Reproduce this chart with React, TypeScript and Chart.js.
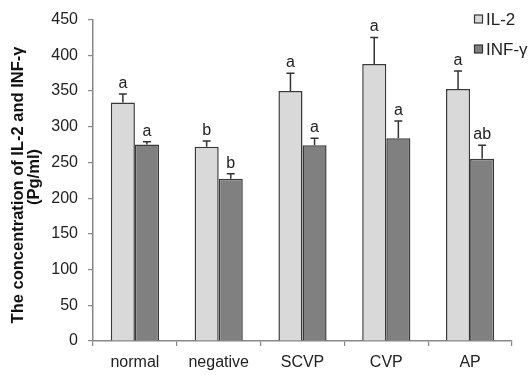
import React, { useEffect, useRef } from "react";
import { Chart, registerables } from "chart.js";

Chart.register(...registerables);

const categories = ["normal", "negative", "SCVP", "CVP", "AP"];
const il2Values = [334, 272, 350, 388, 353];
const il2Errors = [12, 8, 25, 37, 25];
const il2Letters = ["a", "b", "a", "a", "a"];
const infValues = [275, 227, 274, 284, 255];
const infErrors = [4, 7, 10, 24, 19];
const infLetters = ["a", "b", "a", "a", "ab"];
const yTicks = [0, 50, 100, 150, 200, 250, 300, 350, 400, 450];

const FONT = "'Liberation Sans', Arial, sans-serif";

export default function App() {
  const ref = useRef<HTMLCanvasElement | null>(null);

  useEffect(() => {
    if (!ref.current) return;
    const errors = [il2Errors, infErrors];
    const letters = [il2Letters, infLetters];

    const overlay = {
      id: "overlay",
      afterDatasetsDraw(chart: any) {
        const ctx = chart.ctx;
        const y = chart.scales.y;
        ctx.save();
        chart.data.datasets.forEach((ds: any, di: number) => {
          const meta = chart.getDatasetMeta(di);
          meta.data.forEach((bar: any, i: number) => {
            const v = ds.data[i];
            const e = errors[di][i];
            const top = y.getPixelForValue(v + e);
            const base = y.getPixelForValue(v);
            ctx.strokeStyle = "#333";
            ctx.lineWidth = 1.5;
            ctx.beginPath();
            ctx.moveTo(bar.x, base);
            ctx.lineTo(bar.x, top);
            ctx.moveTo(bar.x - 4, top);
            ctx.lineTo(bar.x + 4, top);
            ctx.stroke();
            ctx.fillStyle = "#222";
            ctx.font = `16px ${FONT}`;
            ctx.textAlign = "center";
            ctx.textBaseline = "alphabetic";
            ctx.fillText(letters[di][i], bar.x, top - 6);
          });
        });
        // y title
        ctx.save();
        ctx.translate(18, 185);
        ctx.rotate(-Math.PI / 2);
        ctx.font = `bold 16.5px ${FONT}`;
        ctx.fillStyle = "#111";
        ctx.textAlign = "center";
        ctx.textBaseline = "middle";
        ctx.fillText("The concentration of IL-2 and INF-γ", 0, 0);
        ctx.translate(8, 16);
        ctx.fillText("(Pg/ml)", 0, 0);
        ctx.restore();
        // legend
        const items = [
          { label: "IL-2", color: "#d9d9d9", y: 19 },
          { label: "INF-γ", color: "#808080", y: 49 },
        ];
        items.forEach((it) => {
          ctx.fillStyle = it.color;
          ctx.fillRect(474.5, it.y - 4, 8, 8);
          ctx.strokeStyle = "#333";
          ctx.lineWidth = 1.2;
          ctx.strokeRect(474.5, it.y - 4, 8, 8);
          ctx.fillStyle = "#222";
          ctx.font = `17px ${FONT}`;
          ctx.textAlign = "left";
          ctx.textBaseline = "middle";
          ctx.fillText(it.label, 486, it.y + 1);
        });
        ctx.restore();
      },
    };

    const chart = new Chart(ref.current, {
      type: "bar",
      data: {
        labels: categories,
        datasets: [
          {
            label: "IL-2",
            data: il2Values,
            backgroundColor: "#d9d9d9",
            borderColor: "#3a3a3a",
            borderWidth: 1.5,
          },
          {
            label: "INF-γ",
            data: infValues,
            backgroundColor: "#808080",
            borderColor: "#3a3a3a",
            borderWidth: 1.5,
          },
        ],
      },
      options: {
        animation: false,
        responsive: false,
        maintainAspectRatio: false,
        layout: { padding: { top: 16, right: 19, left: 0, bottom: 0 } },
        plugins: { legend: { display: false }, tooltip: { enabled: false } },
        datasets: { bar: { categoryPercentage: 0.575, barPercentage: 1.0 } },
        scales: {
          x: {
            grid: {
              display: true,
              drawOnChartArea: false,
              drawTicks: true,
              tickLength: 5,
              color: "#888",
              lineWidth: 1.2,
            },
            border: { display: true, color: "#888", width: 1.5 },
            ticks: {
              color: "#222",
              font: { family: FONT, size: 16 },
              padding: 7,
            },
            afterFit: (s: any) => {
              s.height = 34;
            },
          },
          y: {
            min: 0,
            max: 450,
            afterBuildTicks: (s: any) => {
              s.ticks = yTicks.map((v) => ({ value: v }));
            },
            grid: {
              display: true,
              drawOnChartArea: false,
              drawTicks: true,
              tickLength: 5,
              color: "#888",
              lineWidth: 1.2,
            },
            border: { display: true, color: "#888", width: 1.5 },
            ticks: {
              color: "#222",
              font: { family: FONT, size: 16 },
              padding: 10,
            },
            afterFit: (s: any) => {
              s.width = 93;
            },
          },
        },
      },
      plugins: [overlay],
    } as any);
    return () => chart.destroy();
  }, []);

  return (
    <div style={{ position: "fixed", left: 0, top: 0, width: 531, height: 375, background: "#fff" }}>
      <canvas ref={ref} width={531} height={375} style={{ width: 531, height: 375 }} />
    </div>
  );
}
